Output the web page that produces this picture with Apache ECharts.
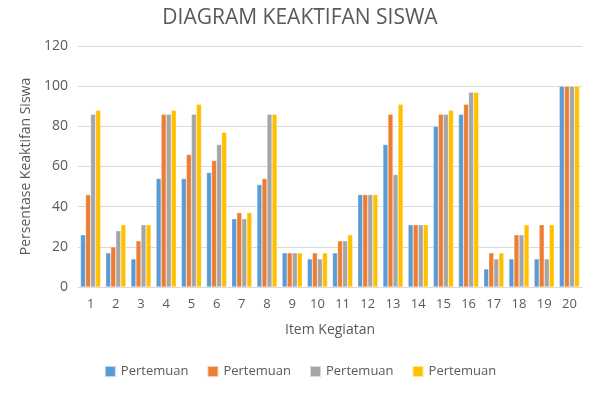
<!DOCTYPE html>
<html><head><meta charset="utf-8">
<script src="https://cdn.jsdelivr.net/npm/echarts@6/dist/echarts.min.js"></script>
<style>html,body{margin:0;padding:0;background:#fff}#c{width:600px;height:395px}</style>
</head><body><div id="c"></div>
<script>
const categories = ['1','2','3','4','5','6','7','8','9','10','11','12','13','14','15','16','17','18','19','20'];
const seriesNames = ['Pertemuan','Pertemuan','Pertemuan','Pertemuan'];
const p1 = [26,17,14,54,54,57,34,51,17,14,17,46,71,31,80,86,9,14,14,100];
const p2 = [46,20,23,86,66,63,37,54,17,17,23,46,86,31,86,91,17,26,31,100];
const p3 = [86,28,31,86,86,71,34,86,17,14,23,46,56,31,86,97,14,26,14,100];
const p4 = [88,31,31,88,91,77,37,86,17,17,26,46,91,31,88,97,17,31,31,100];
const yTicks = {min:0, max:120, interval:20};
const colors = ['#5B9BD5','#ED7D31','#A5A5A5','#FFC000'];
const font = '"Open Sans", "Noto Sans", sans-serif';
const chart = echarts.init(document.getElementById('c'));
const data = [p1,p2,p3,p4];
chart.setOption({
  animation:false,
  title:{text:'DIAGRAM KEAKTIFAN SISWA',left:'center',top:3,textStyle:{fontFamily:font,fontSize:21,fontWeight:'normal',color:'#595959'}},
  legend:{bottom:12,left:'center',itemWidth:11,itemHeight:11,itemGap:18,icon:'rect',textStyle:{fontFamily:font,fontSize:13,color:'#595959'},data:seriesNames.map((n,i)=>({name:n+(i?'\u200B'.repeat(i):'')}))},
  grid:{left:78,right:18,top:46,bottom:108},
  xAxis:{type:'category',data:categories,name:'Item Kegiatan',nameLocation:'middle',nameGap:36,
    nameTextStyle:{fontFamily:font,fontSize:14,color:'#595959'},
    axisTick:{show:false},axisLine:{lineStyle:{color:'#D9D9D9'}},
    axisLabel:{fontFamily:font,fontSize:13,color:'#595959',margin:11}},
  yAxis:{type:'value',min:yTicks.min,max:yTicks.max,interval:yTicks.interval,name:'Persentase Keaktifan Siswa',nameLocation:'middle',nameGap:42,
    nameTextStyle:{fontFamily:font,fontSize:14,color:'#595959'},
    axisLabel:{fontFamily:font,fontSize:14,color:'#595959',margin:10},
    splitLine:{lineStyle:{color:'#D9D9D9'}},axisLine:{show:false},axisTick:{show:false}},
  series:data.map((d,i)=>({name:seriesNames[i]+(i?'\u200B'.repeat(i):''),type:'bar',data:d,barGap:'0%',barCategoryGap:'20%',
    itemStyle:{color:colors[i],borderColor:'rgba(255,255,255,0.6)',borderWidth:0.5}}))
});
</script></body></html>
